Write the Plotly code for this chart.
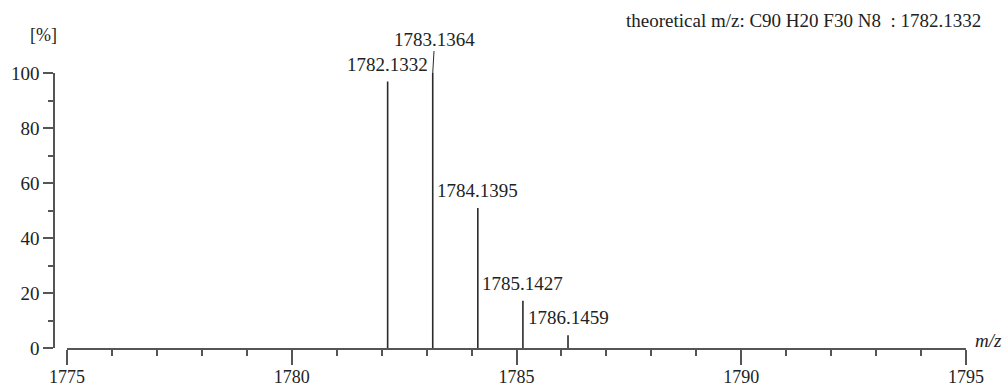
import plotly.graph_objects as go

# Isotope peaks: m/z and relative intensity (%)
mz = [1782.1332, 1783.1364, 1784.1395, 1785.1427, 1786.1459]
intensity = [96.9, 100.0, 50.9, 17.2, 4.6]
peak_labels = ["1782.1332", "1783.1364", "1784.1395", "1785.1427", "1786.1459"]

x_ticks = [1775, 1780, 1785, 1790, 1795]
y_ticks = [0, 20, 40, 60, 80, 100]

title_text = "theoretical m/z: C90 H20 F30 N8\u00a0\u00a0: 1782.1332"

FONT = "Liberation Serif"
TEXT = "#222222"
AXIS = "#555555"
PEAK = "#2a2a2a"

W, H = 1008, 389
ML, MR, MT, MB = 54, 42, 73, 41
plot_w = W - ML - MR

# stick spectrum: one vertical segment per peak
xs, ys = [], []
for m, v in zip(mz, intensity):
    xs += [m, m, None]
    ys += [0, v, None]

fig = go.Figure()
fig.add_trace(go.Scatter(x=xs, y=ys, mode="lines",
                         line=dict(color=PEAK, width=1.6),
                         hoverinfo="skip", showlegend=False))

annotations = []
for i, (m, v, lab) in enumerate(zip(mz, intensity, peak_labels)):
    if i == 1:
        # tallest peak: label lifted with a short leader line
        annotations.append(dict(x=m, y=v, xref="x", yref="y", text=lab,
                                showarrow=True, arrowhead=0, arrowwidth=1,
                                arrowcolor=PEAK, ax=2, ay=-34, standoff=0,
                                font=dict(family=FONT, size=19, color=TEXT)))
    else:
        annotations.append(dict(x=m, y=v, xref="x", yref="y", text=lab,
                                showarrow=False, yanchor="bottom", yshift=5,
                                font=dict(family=FONT, size=19, color=TEXT)))

# free text placed in pixel terms, converted to paper coordinates
def px(xp, yp):
    return (xp - ML) / plot_w, 1 - (yp - MT) / (H - MT - MB)

for xp, yp, txt, anchor, size in [
    (983, 20, title_text, "right", 19),
    (43, 35, "[%]", "center", 18),
    (988, 340, "<i>m/z</i>", "center", 19),
]:
    x0, y0 = px(xp, yp)
    annotations.append(dict(x=x0, y=y0, xref="paper", yref="paper", text=txt,
                            showarrow=False, xanchor=anchor, yanchor="middle",
                            font=dict(family=FONT, size=size, color=TEXT)))

fig.update_layout(
    width=W, height=H,
    margin=dict(l=ML, r=MR, t=MT, b=MB, pad=0, autoexpand=False),
    paper_bgcolor="white", plot_bgcolor="white",
    annotations=annotations,
    xaxis=dict(domain=[13 / plot_w, 1], range=[1775, 1795],
               tickvals=x_ticks, ticktext=[str(t) for t in x_ticks],
               ticks="outside", ticklen=15, tickwidth=1.5, tickcolor=AXIS,
               ticklabelstandoff=-3,
               minor=dict(dtick=1, tick0=1775, ticks="outside", ticklen=6,
                          tickwidth=1.5, tickcolor=AXIS),
               showline=True, linecolor=AXIS, linewidth=1.5,
               showgrid=False, zeroline=False, automargin=False,
               tickfont=dict(family=FONT, size=18, color=TEXT),
               fixedrange=True),
    yaxis=dict(anchor="free", position=0, range=[0, 100],
               tickvals=y_ticks, ticktext=[str(t) for t in y_ticks],
               ticks="outside", ticklen=10, tickwidth=1.5, tickcolor=AXIS,
               minor=dict(dtick=10, tick0=0, ticks="outside", ticklen=5,
                          tickwidth=1.5, tickcolor=AXIS),
               showline=True, linecolor=AXIS, linewidth=1.5,
               showgrid=False, zeroline=False, automargin=False,
               tickfont=dict(family=FONT, size=19, color=TEXT),
               fixedrange=True),
)

fig.write_html("out.html")
